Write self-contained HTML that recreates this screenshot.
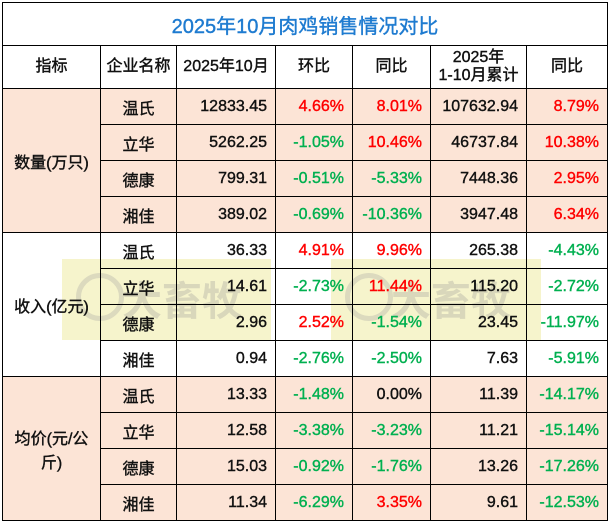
<!DOCTYPE html>
<html><head><meta charset="utf-8">
<style>
body{margin:0;width:609px;height:524px;background:#fff;font-family:"Liberation Sans","Noto Sans CJK SC",sans-serif;position:relative;overflow:hidden}
table{position:absolute;left:2px;top:2px;border-collapse:collapse;table-layout:fixed}
td{border:1px solid #000;font-size:16px;color:#111;padding:0 8px 0 0;text-align:right;height:36px;box-sizing:border-box;white-space:nowrap;-webkit-text-stroke:0.4px currentColor}
td.c{text-align:center;padding:0}
.p{background:#fce4d6}
.r{color:#ff0000}.g{color:#00b050}
td.t{color:#1e7bd0;font-size:20px;height:43px}
td.h{height:43px;line-height:18px}
.wm{position:absolute;background:rgba(240,236,170,0.6);overflow:hidden;white-space:nowrap}
.wm span{position:absolute;font-size:40px;font-weight:bold;color:rgba(150,150,150,0.3);left:60px;top:10px}
.wm i{position:absolute;left:14px;top:14px;width:48px;height:48px;border-radius:50%;border:5px solid rgba(160,160,160,0.3);box-sizing:border-box}
</style></head><body>
<div class="wm" style="left:62px;top:259px;width:209px;height:81px"><i></i><span>大畜牧</span></div>
<div class="wm" style="left:331px;top:259px;width:210px;height:81px"><i></i><span>大畜牧</span></div>
<table>
<colgroup><col style="width:98px"><col style="width:76px"><col style="width:99px"><col style="width:77px"><col style="width:78px"><col style="width:96px"><col style="width:81px"></colgroup>
<tr style="background:#fff"><td class="c t" colspan="7">2025年10月肉鸡销售情况对比</td></tr>
<tr style="background:#fff"><td class="c h">指标</td><td class="c h">企业名称</td><td class="c h">2025年10月</td><td class="c h">环比</td><td class="c h">同比</td><td class="c h">2025年<br>1-10月累计</td><td class="c h">同比</td></tr>
<tr class="p"><td class="c" rowspan="4">数量(万只)</td><td class="c">温氏</td><td>12833.45</td><td class="r">4.66%</td><td class="r">8.01%</td><td>107632.94</td><td class="r">8.79%</td></tr>
<tr class="p"><td class="c">立华</td><td>5262.25</td><td class="g">-1.05%</td><td class="r">10.46%</td><td>46737.84</td><td class="r">10.38%</td></tr>
<tr class="p"><td class="c">德康</td><td>799.31</td><td class="g">-0.51%</td><td class="g">-5.33%</td><td>7448.36</td><td class="r">2.95%</td></tr>
<tr class="p"><td class="c">湘佳</td><td>389.02</td><td class="g">-0.69%</td><td class="g">-10.36%</td><td>3947.48</td><td class="r">6.34%</td></tr>
<tr><td class="c" rowspan="4">收入(亿元)</td><td class="c">温氏</td><td>36.33</td><td class="r">4.91%</td><td class="r">9.96%</td><td>265.38</td><td class="g">-4.43%</td></tr>
<tr><td class="c">立华</td><td>14.61</td><td class="g">-2.73%</td><td class="r">11.44%</td><td>115.20</td><td class="g">-2.72%</td></tr>
<tr><td class="c">德康</td><td>2.96</td><td class="r">2.52%</td><td class="g">-1.54%</td><td>23.45</td><td class="g">-11.97%</td></tr>
<tr><td class="c">湘佳</td><td>0.94</td><td class="g">-2.76%</td><td class="g">-2.50%</td><td>7.63</td><td class="g">-5.91%</td></tr>
<tr class="p"><td class="c" rowspan="4">均价(元/公<br>斤)</td><td class="c">温氏</td><td>13.33</td><td class="g">-1.48%</td><td>0.00%</td><td>11.39</td><td class="g">-14.17%</td></tr>
<tr class="p"><td class="c">立华</td><td>12.58</td><td class="g">-3.38%</td><td class="g">-3.23%</td><td>11.21</td><td class="g">-15.14%</td></tr>
<tr class="p"><td class="c">德康</td><td>15.03</td><td class="g">-0.92%</td><td class="g">-1.76%</td><td>13.26</td><td class="g">-17.26%</td></tr>
<tr class="p"><td class="c">湘佳</td><td>11.34</td><td class="g">-6.29%</td><td class="r">3.35%</td><td>9.61</td><td class="g">-12.53%</td></tr>
</table>
</body></html>
